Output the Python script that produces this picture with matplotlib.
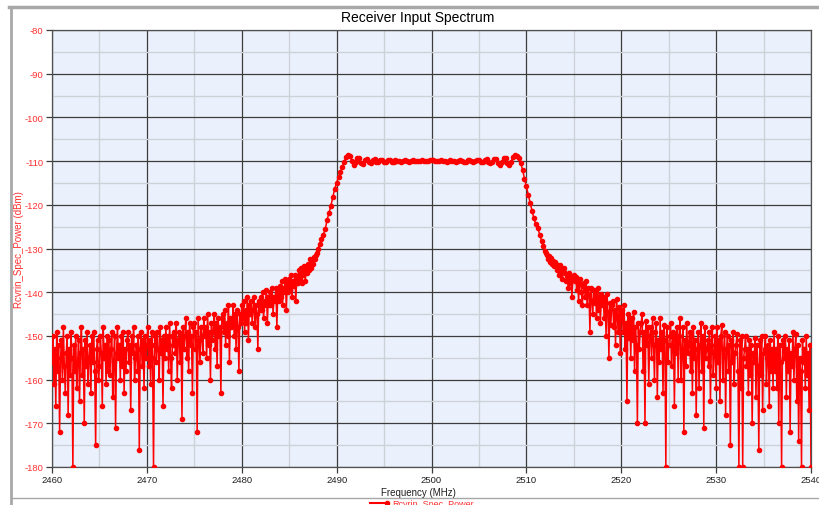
import numpy as np
import matplotlib
matplotlib.use("Agg")
import matplotlib.pyplot as plt
from matplotlib.lines import Line2D
from matplotlib.ticker import MultipleLocator

# ---------------- data ----------------
# noise skirts sampled every 0.1 MHz, main lobe every 0.2 MHz
left_noise = [  # 2460.0 .. 2487.9 MHz
    -156, -150, -161, -153, -166, -149, -158, -152, -172, -155,
    -151, -160, -148, -157, -163, -154, -150, -168, -153, -159,
    -149, -155, -180, -152, -158, -150, -162, -156, -151, -165,
    -154, -148, -159, -153, -170, -151, -157, -149, -161, -155,
    -152, -163, -150, -156, -149, -158, -175, -153, -151, -160,
    -157, -150, -154, -166, -148, -155, -152, -161, -150, -158,
    -151, -159, -153, -149, -164, -156, -150, -171, -154, -148,
    -155, -152, -160, -150, -157, -149, -163, -153, -158, -151,
    -149, -156, -152, -167, -150, -154, -148, -160, -155, -152,
    -158, -150, -176, -153, -149, -157, -151, -162, -150, -155,
    -152, -148, -157, -151, -161, -149, -155, -180, -152, -150,
    -156, -149, -153, -160, -148, -154, -151, -166, -150, -155,
    -148, -153, -150, -158, -147, -155, -162, -150, -152, -149,
    -154, -147, -160, -151, -149, -156, -150, -169, -148, -153,
    -150, -146, -155, -149, -158, -147, -152, -150, -163, -148,
    -147, -153, -149, -172, -146, -151, -156, -148, -150, -154,
    -146, -150, -148, -155, -145, -152, -149, -160, -147, -151,
    -149, -145, -153, -147, -157, -146, -150, -148, -163, -146,
    -145, -149, -144, -152, -147, -150, -143, -156, -146, -148,
    -147, -143, -150, -145, -153, -144, -148, -158, -145, -147,
    -143, -146, -142, -149, -144, -147, -141, -151, -143, -145,
    -142, -147, -144, -141, -148, -143, -145, -153, -142, -144,
    -141, -144, -140, -146, -142, -143, -139.5, -147, -141, -143,
    -140, -143, -139, -145, -141, -142, -139, -148, -140, -142,
    -138.5, -141, -137.5, -143, -139, -140, -137, -144, -138, -140,
    -137, -139.5, -136, -141, -137.5, -138.5, -136, -142, -136.5, -138,
    -135, -137, -134.5, -138, -135.5, -136, -134, -137.5, -134.5, -135.5,
    -133.5, -135, -132.5, -134.5, -133, -133.5, -132, -132.5, -131.5, -131,
]

rise = [  # 2488.0 .. 2491.0 MHz
    -130.2, -129.0, -127.9, -126.8, -125.6, -123.4, -121.8, -120.2,
    -118.2, -116.3, -115.0, -113.6, -112.5, -111.3, -110.1, -109.1,
]

passband = [  # 2491.2 .. 2508.8 MHz
    -108.6, -108.9, -110.0, -110.9, -110.3, -109.4, -109.3, -110.4, -110.7, -109.7,
    -109.5, -110.3, -110.4, -109.8, -109.6, -110.1, -110.3, -109.8, -109.7, -110.1,
    -110.2, -109.8, -109.8, -110.1, -110.1, -109.8, -109.9, -110.0, -110.1, -109.9,
    -109.8, -110.0, -110.1, -109.9, -109.8, -109.9, -110.0, -110.0, -109.9, -109.8,
    -109.9, -110.0, -109.9, -109.8, -109.8, -109.8, -109.9, -110.0, -109.9, -109.8,
    -109.9, -110.0, -110.1, -109.9, -109.8, -109.9, -110.0, -110.1, -109.9, -109.8,
    -109.9, -110.1, -110.1, -109.8, -109.8, -110.0, -110.2, -110.0, -109.7, -109.8,
    -110.2, -110.3, -109.8, -109.6, -110.1, -110.4, -110.1, -109.5, -109.6, -110.5,
    -110.9, -110.2, -109.3, -109.2, -110.4, -111.0, -110.1, -109.0, -108.7,
]

fall = [  # 2509.0 .. 2512.0 MHz
    -108.9, -109.4, -110.4, -112.0, -114.0, -115.8, -117.7, -119.6,
    -121.4, -123.1, -124.5, -125.3, -126.8, -128.2, -129.4, -130.6,
]

right_noise = [  # 2512.1 .. 2540.0 MHz
    -131, -131.5, -132.5, -131.8, -133, -132.2, -133.5, -132.8, -134, -133,
    -133.5, -135, -134, -136, -133.8, -135.5, -134.5, -137, -135, -134.5,
    -135.5, -137.5, -136, -139, -135.5, -138, -136.5, -141, -137, -136,
    -137.5, -136.5, -139.5, -137, -142, -138, -137, -140, -143, -138.5,
    -138, -141, -137.5, -143, -139, -140.5, -149, -139, -142, -145,
    -139.5, -142.5, -140, -146, -139, -144, -141, -147, -140.5, -143,
    -141, -146, -142, -150, -140.5, -144.5, -155, -142.5, -147.5, -143,
    -142, -148, -144, -152, -141.5, -146, -149, -143.5, -154, -145,
    -144, -149, -143, -153, -147, -165, -145, -150.5, -146, -155,
    -146, -151, -144.5, -158, -148, -152, -170, -147, -153, -149,
    -147, -145, -158, -149, -170, -146.5, -152, -148, -161, -150,
    -148, -155, -146, -152, -160, -149, -147, -164, -151, -156,
    -146, -153, -149, -163, -147.5, -151, -180, -148, -156, -152,
    -150, -147, -157, -152, -149, -166, -150, -154, -148, -160,
    -150, -146, -160, -153, -148, -172, -151, -157, -147, -154,
    -152, -149, -158, -150, -163, -148, -155, -151, -168, -153,
    -149, -162, -152, -147, -158, -150, -171, -148, -155, -153,
    -151, -157, -149, -165, -152, -148, -159, -154, -150, -162,
    -148, -156, -151, -165, -150, -147.5, -160, -153, -149, -168,
    -153, -150, -158, -152, -175, -151, -156, -149, -161, -154,
    -152, -149.5, -158, -180, -151, -162, -150, -180, -155, -153,
    -150, -157, -153, -163, -151, -159, -152, -170, -154, -156,
    -150.5, -164, -152, -157, -176, -151, -159, -150, -167, -154,
    -153, -150, -161, -155, -152, -166, -151, -158, -153, -162,
    -149, -158, -153, -162, -150, -170, -152, -156, -180, -151,
    -152, -155, -150, -164, -153, -158, -151, -172, -154, -157,
    -149, -160, -153, -149.5, -165, -152, -174, -155, -158, -180,
    -151, -156, -153, -162, -150, -159, -154, -167, -152, -180,
]

# (first MHz, last MHz) of each segment above
segment_bounds = [(2460.0, 2487.9), (2488.0, 2491.0), (2491.2, 2508.8),
                  (2509.0, 2512.0), (2512.1, 2540.0)]

x_ticks = [2460, 2470, 2480, 2490, 2500, 2510, 2520, 2530, 2540]
y_ticks = [-180, -170, -160, -150, -140, -130, -120, -110, -100, -90, -80]

title = "Receiver Input Spectrum"
x_label = "Frequency (MHz)"
y_label = "Rcvrin_Spec_Power (dBm)"
series_name = "Rcvrin_Spec_Power"

# ---------------- figure ----------------
segments = [left_noise, rise, passband, fall, right_noise]
freq = np.concatenate([np.linspace(a, b, len(s))
                       for (a, b), s in zip(segment_bounds, segments)])
power = np.concatenate([np.asarray(s, dtype=float) for s in segments])

plt.rcParams["font.family"] = ["Liberation Sans", "DejaVu Sans"]
plt.rcParams["axes.unicode_minus"] = False

W, H = 820, 506
fig = plt.figure(figsize=(W / 100, H / 100), dpi=100)
fig.patch.set_facecolor("white")

ax = fig.add_axes([52 / W, 1 - 468 / H, (811 - 52) / W, (468 - 31) / H])
ax.set_facecolor("#ebf1fc")

ax.plot(freq, power, color="#ff0000", lw=1.1, marker="o", ms=3.0,
        mec="#ff0000", mfc="#ff0000", zorder=3, clip_on=True)

ax.set_xlim(x_ticks[0], x_ticks[-1])
ax.set_ylim(y_ticks[0], y_ticks[-1])
ax.set_xticks(x_ticks)
ax.set_yticks(y_ticks)
ax.xaxis.set_minor_locator(MultipleLocator(5))
ax.yaxis.set_minor_locator(MultipleLocator(5))
ax.grid(which="minor", color="#cdd1d8", lw=1.0, zorder=0)
ax.grid(which="major", color="#3c3c3c", lw=0.9, zorder=1)
ax.set_axisbelow(True)
ax.tick_params(which="minor", length=0)
ax.tick_params(which="major", length=4, width=0.9, color="#3c3c3c",
               labelsize=6.8, pad=2)
ax.tick_params(axis="y", labelcolor="#ff3030")
ax.tick_params(axis="x", labelcolor="#202020")
for s in ax.spines.values():
    s.set_color("#505050")
    s.set_linewidth(0.9)

# texts
fig.text(418 / W, 1 - 18 / H, title, ha="center", va="center",
         fontsize=10, color="black")
fig.text(418 / W, 1 - 493 / H, x_label, ha="center", va="center",
         fontsize=7, color="#202020")
fig.text(19 / W, 1 - 250 / H, y_label, ha="center", va="center",
         rotation=90, fontsize=7, color="#ff3030")

# legend (partly cut by the image border, as in the reference)
fig.add_artist(Line2D([370 / W, 387 / W], [1 - 504 / H, 1 - 504 / H],
                      transform=fig.transFigure, color="#ff0000", lw=1.5,
                      marker="o", ms=3, markevery=[1]))
fig.text(392 / W, 1 - 505 / H, series_name, ha="left", va="center",
         fontsize=6.5, color="#ff3030")

# outer gray frame
gray = "#a8a8a8"
fig.add_artist(Line2D([9 / W, 1.0], [1 - 8 / H, 1 - 8 / H],
                      transform=fig.transFigure, color=gray, lw=2.5))
fig.add_artist(Line2D([11 / W, 11 / W], [0, 1 - 8 / H],
                      transform=fig.transFigure, color=gray, lw=2.0))
fig.add_artist(Line2D([12 / W, 1.0], [1 - 499 / H, 1 - 499 / H],
                      transform=fig.transFigure, color=gray, lw=1.0))

fig.savefig("out.png", dpi=100, facecolor="white")
